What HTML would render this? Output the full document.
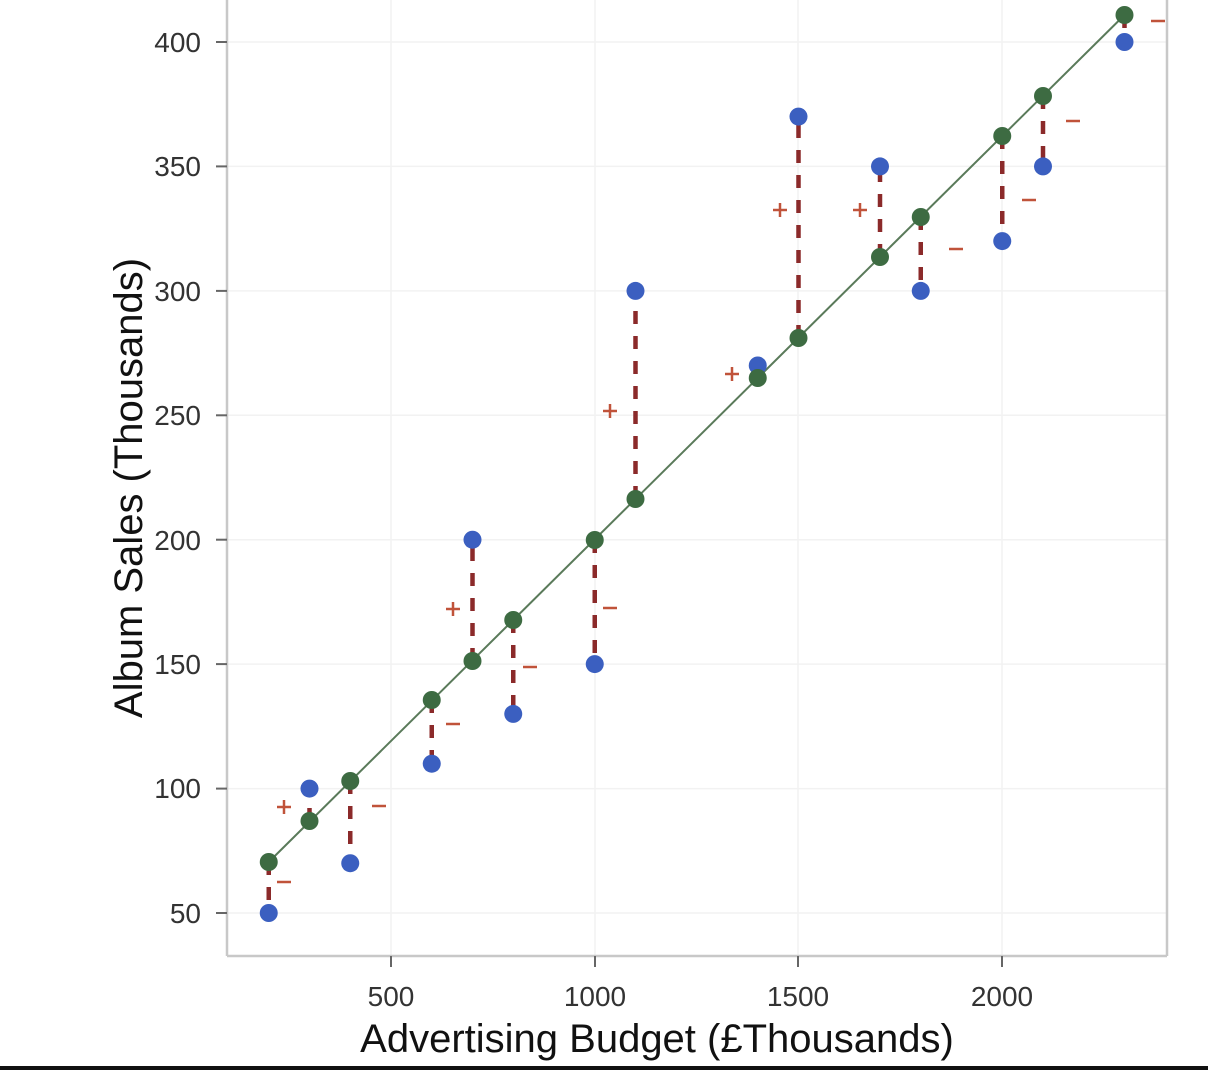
<!DOCTYPE html>
<html><head><meta charset="utf-8"><style>
html,body{margin:0;padding:0;background:#fff;}
svg{display:block;font-family:"Liberation Sans",sans-serif;}
</style></head><body>
<svg width="1208" height="1070" viewBox="0 0 1208 1070">
<rect width="1208" height="1070" fill="#fff"/>
<g stroke="#f2f2f2" stroke-width="1.5">
<line x1="391" y1="0" x2="391" y2="956"/><line x1="595" y1="0" x2="595" y2="956"/>
<line x1="798" y1="0" x2="798" y2="956"/><line x1="1002" y1="0" x2="1002" y2="956"/>
<line x1="228" y1="42" x2="1167" y2="42"/><line x1="228" y1="166.4" x2="1167" y2="166.4"/>
<line x1="228" y1="290.9" x2="1167" y2="290.9"/><line x1="228" y1="415.3" x2="1167" y2="415.3"/>
<line x1="228" y1="539.7" x2="1167" y2="539.7"/><line x1="228" y1="664.1" x2="1167" y2="664.1"/>
<line x1="228" y1="788.6" x2="1167" y2="788.6"/><line x1="228" y1="913" x2="1167" y2="913"/>
</g>
<g stroke="#c8c8c8" stroke-width="2.5" fill="none">
<line x1="227" y1="0" x2="227" y2="956"/><line x1="227" y1="956" x2="1167" y2="956"/><line x1="1167" y1="0" x2="1167" y2="956"/>
</g>
<g stroke="#666" stroke-width="2">
<line x1="216" y1="42" x2="227" y2="42"/><line x1="216" y1="166.4" x2="227" y2="166.4"/><line x1="216" y1="290.9" x2="227" y2="290.9"/>
<line x1="216" y1="415.3" x2="227" y2="415.3"/><line x1="216" y1="539.7" x2="227" y2="539.7"/><line x1="216" y1="664.1" x2="227" y2="664.1"/>
<line x1="216" y1="788.6" x2="227" y2="788.6"/><line x1="216" y1="913" x2="227" y2="913"/>
<line x1="391" y1="956" x2="391" y2="967"/><line x1="595" y1="956" x2="595" y2="967"/><line x1="798" y1="956" x2="798" y2="967"/><line x1="1002" y1="956" x2="1002" y2="967"/>
</g>
<g fill="#333" font-size="28" text-anchor="end">
<text x="201" y="52">400</text><text x="201" y="176">350</text><text x="201" y="301">300</text><text x="201" y="425">250</text>
<text x="201" y="550">200</text><text x="201" y="674">150</text><text x="201" y="798">100</text><text x="201" y="923">50</text>
</g>
<g fill="#333" font-size="28" text-anchor="middle">
<text x="391" y="1006">500</text><text x="595" y="1006">1000</text><text x="798" y="1006">1500</text><text x="1002" y="1006">2000</text>
</g>
<text x="657" y="1052" font-size="40" text-anchor="middle" fill="#111">Advertising Budget (£Thousands)</text>
<text transform="translate(142,488) rotate(-90)" font-size="40" text-anchor="middle" fill="#111">Album Sales (Thousands)</text>
<g stroke="#8b2a2a" stroke-width="4.5" stroke-dasharray="13,12">
<line x1="268.75" y1="862" x2="268.75" y2="913"/>
<line x1="309.5" y1="821" x2="309.5" y2="788.6"/>
<line x1="350.25" y1="781" x2="350.25" y2="863.2"/>
<line x1="431.75" y1="700" x2="431.75" y2="763.7"/>
<line x1="472.5" y1="661" x2="472.5" y2="539.7"/>
<line x1="513.25" y1="620" x2="513.25" y2="713.9"/>
<line x1="594.75" y1="540" x2="594.75" y2="664.1"/>
<line x1="635.5" y1="499" x2="635.5" y2="290.9"/>
<line x1="757.75" y1="378" x2="757.75" y2="365.5"/>
<line x1="798.5" y1="338" x2="798.5" y2="116.6"/>
<line x1="880" y1="257" x2="880" y2="166.4"/>
<line x1="920.75" y1="217" x2="920.75" y2="290.9"/>
<line x1="1002.25" y1="136" x2="1002.25" y2="241.1"/>
<line x1="1043" y1="96" x2="1043" y2="166.4"/>
<line x1="1124.5" y1="15" x2="1124.5" y2="42"/>
</g>
<line x1="268.75" y1="862" x2="1124.5" y2="15" stroke="#5a7a5a" stroke-width="2"/>
<g fill="#3b5fc0">
<circle cx="268.75" cy="913" r="9"/><circle cx="309.5" cy="788.6" r="9"/><circle cx="350.25" cy="863.2" r="9"/>
<circle cx="431.75" cy="763.7" r="9"/><circle cx="472.5" cy="539.7" r="9"/><circle cx="513.25" cy="713.9" r="9"/>
<circle cx="594.75" cy="664.1" r="9"/><circle cx="635.5" cy="290.9" r="9"/><circle cx="757.75" cy="365.5" r="9"/>
<circle cx="798.5" cy="116.6" r="9"/><circle cx="880" cy="166.4" r="9"/><circle cx="920.75" cy="290.9" r="9"/>
<circle cx="1002.25" cy="241.1" r="9"/><circle cx="1043" cy="166.4" r="9"/><circle cx="1124.5" cy="42" r="9"/>
</g>
<g fill="#3d6b42">
<circle cx="268.75" cy="862" r="9"/><circle cx="309.5" cy="821" r="9"/><circle cx="350.25" cy="781" r="9"/>
<circle cx="431.75" cy="700" r="9"/><circle cx="472.5" cy="661" r="9"/><circle cx="513.25" cy="620" r="9"/>
<circle cx="594.75" cy="540" r="9"/><circle cx="635.5" cy="499" r="9"/><circle cx="757.75" cy="378" r="9"/>
<circle cx="798.5" cy="338" r="9"/><circle cx="880" cy="257" r="9"/><circle cx="920.75" cy="217" r="9"/>
<circle cx="1002.25" cy="136" r="9"/><circle cx="1043" cy="96" r="9"/><circle cx="1124.5" cy="15" r="9"/>
</g>
<g stroke="#c0533a" stroke-width="2.5">
<line x1="277" y1="882" x2="291" y2="882"/>
<line x1="277" y1="807" x2="291" y2="807"/><line x1="284" y1="800" x2="284" y2="814"/>
<line x1="372" y1="806" x2="386" y2="806"/>
<line x1="446" y1="724" x2="460" y2="724"/>
<line x1="446" y1="609" x2="460" y2="609"/><line x1="453" y1="602" x2="453" y2="616"/>
<line x1="523" y1="667" x2="537" y2="667"/>
<line x1="603" y1="608" x2="617" y2="608"/>
<line x1="603" y1="411" x2="617" y2="411"/><line x1="610" y1="404" x2="610" y2="418"/>
<line x1="725" y1="374" x2="739" y2="374"/><line x1="732" y1="367" x2="732" y2="381"/>
<line x1="773" y1="210" x2="787" y2="210"/><line x1="780" y1="203" x2="780" y2="217"/>
<line x1="853" y1="210" x2="867" y2="210"/><line x1="860" y1="203" x2="860" y2="217"/>
<line x1="949" y1="249" x2="963" y2="249"/>
<line x1="1022" y1="200" x2="1036" y2="200"/>
<line x1="1066" y1="121" x2="1080" y2="121"/>
<line x1="1151" y1="21" x2="1165" y2="21"/>
</g>
<rect x="0" y="1066" width="1208" height="4" fill="#111"/>
</svg>
</body></html>
